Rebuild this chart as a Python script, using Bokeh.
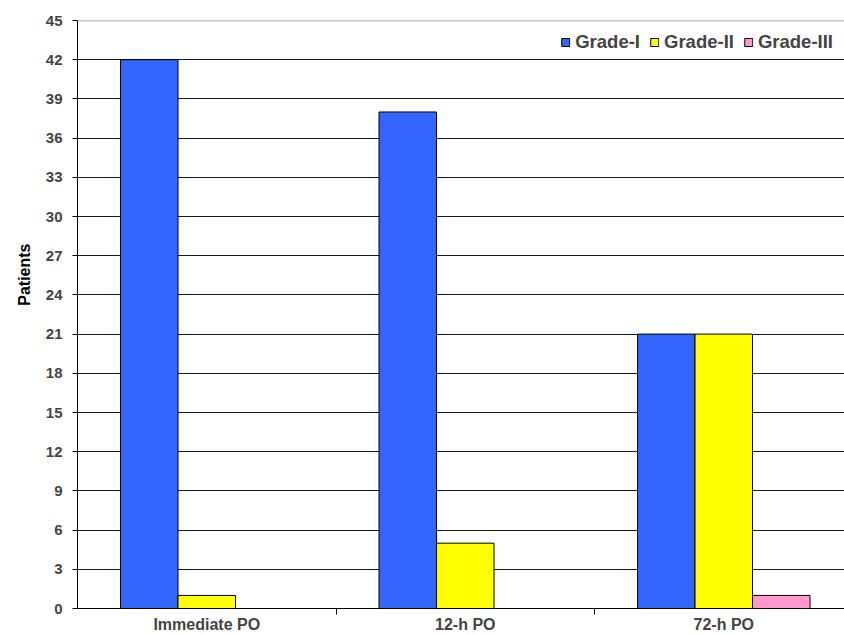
from bokeh.plotting import figure
from bokeh.models import (Range1d, FixedTicker, Span, Legend, LegendItem,
                          ColumnDataSource, Title)
from bokeh.embed import file_html
from bokeh.resources import INLINE

# Time points after surgery and patient counts per grade
categories = ["Immediate PO", "12-h PO", "72-h PO"]
grade_names = ["Grade-I", "Grade-II", "Grade-III"]
grade_1 = [42, 38, 21]
grade_2 = [1, 5, 21]
grade_3 = [0, 0, 1]
y_ticks = list(range(0, 46, 3))

colors = ["#3366FF", "#FFFF00", "#FF99CC"]
FONT = "Liberation Sans"
bar_w = 0.2224
offsets = [-bar_w, 0.0, bar_w]

p = figure(width=844, height=635, output_backend="svg", toolbar_location=None,
           x_range=Range1d(0, 2.967), y_range=Range1d(0, 45),
           min_border_left=77, min_border_right=0, min_border_top=20,
           min_border_bottom=27)
p.outline_line_color = None
p.background_fill_color = "white"
p.border_fill_color = "white"

centers = [i + 0.5 for i in range(len(categories))]
renderers = []
for vals, col, off in zip([grade_1, grade_2, grade_3], colors, offsets):
    src = ColumnDataSource(dict(x=[c + off for c in centers], top=vals))
    r = p.vbar(x="x", top="top", width=bar_w, bottom=0, source=src,
               fill_color=col, line_color="black", line_width=1)
    renderers.append(r)

# grid
p.xgrid.visible = False
p.ygrid.ticker = FixedTicker(ticks=y_ticks[:-1])
p.ygrid.grid_line_color = "#1a1a1a"
p.ygrid.grid_line_width = 1
p.ygrid.level = "underlay"
p.add_layout(Span(location=45, dimension="width", line_color="#8c8c8c",
                  line_width=1.5))

# y axis
ya = p.yaxis[0]
ya.ticker = FixedTicker(ticks=y_ticks)
ya.major_label_text_font = FONT
ya.major_label_text_font_style = "bold"
ya.major_label_text_font_size = "15px"
ya.major_label_standoff = 10
ya.major_tick_out = 5
ya.major_tick_in = 0
ya.minor_tick_line_color = None
ya.axis_line_color = "black"
ya.major_tick_line_color = "black"

# y axis title, anchored from the top of the axis
p.add_layout(Title(text="Patients", align="right", offset=223, standoff=20,
                   text_font=FONT, text_font_style="bold",
                   text_font_size="16px", text_color="black"), "left")

# x axis: labels at category centres, tick marks at category boundaries
xa = p.xaxis[0]
xa.ticker = FixedTicker(ticks=centers, minor_ticks=[1, 2])
xa.major_label_overrides = {c: name for c, name in zip(centers, categories)}
xa.major_label_text_font = FONT
xa.major_label_text_font_style = "bold"
xa.major_label_text_font_size = "16px"
xa.major_label_standoff = 1
xa.major_tick_out = 0
xa.major_tick_in = 0
xa.major_tick_line_color = None
xa.minor_tick_line_color = "black"
xa.minor_tick_out = 6
xa.minor_tick_in = 0
xa.axis_line_color = "black"

legend = Legend(items=[LegendItem(label=n, renderers=[r])
                       for n, r in zip(grade_names, renderers)],
                orientation="horizontal", location="top_right",
                glyph_width=10, glyph_height=10, label_standoff=5,
                spacing=9, padding=0, margin=11,
                border_line_color=None, background_fill_alpha=0,
                label_text_font=FONT, label_text_font_style="bold",
                label_text_font_size="18.5px")
p.add_layout(legend)

open("out.html", "w").write(file_html(p, INLINE))
